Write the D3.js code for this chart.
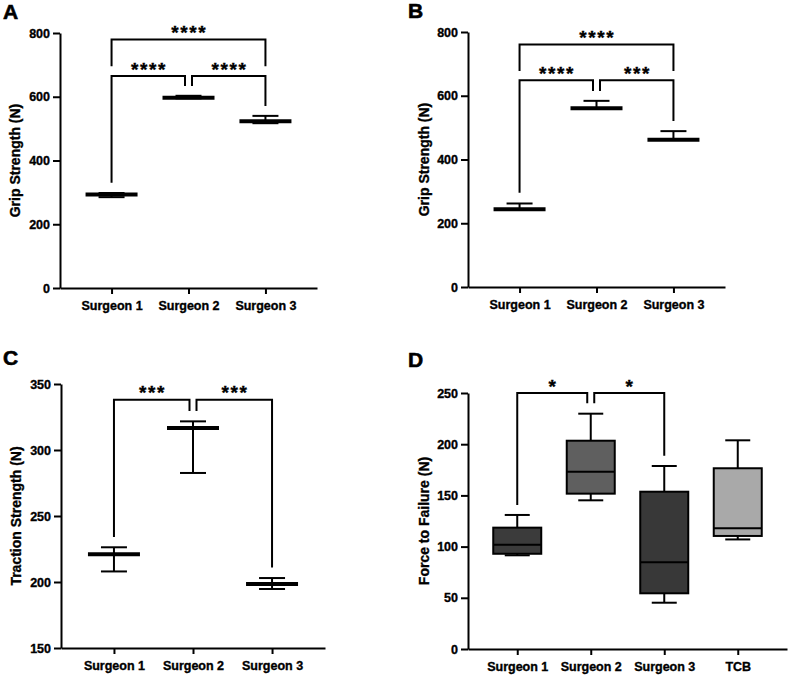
<!DOCTYPE html>
<html><head><meta charset="utf-8">
<script src="https://cdn.jsdelivr.net/npm/d3@7"></script>
<style>
body{margin:0;background:#fff}
svg text{font-family:"Liberation Sans",Arial,Helvetica,sans-serif;font-weight:bold;fill:#000;stroke:#000;stroke-width:0.35px}
</style>
</head><body><svg id="chart" width="789" height="675"></svg>
<script>
// ---------- data ----------
const categoriesABC = ["Surgeon 1", "Surgeon 2", "Surgeon 3"];
const categoriesD = ["Surgeon 1", "Surgeon 2", "Surgeon 3", "TCB"];

const gripA_mean = [293, 597, 523];
const gripA_low = [285, 595, 517];
const gripA_high = [298, 603, 540];

const gripB_mean = [244, 561, 462];
const gripB_low = [244, 561, 462];
const gripB_high = [262, 584, 489];

const tractionC_mean = [221, 316.7, 198.5];
const tractionC_low = [208, 282.6, 194.7];
const tractionC_high = [226.3, 321.7, 203];

const failureD_min = [91.5, 145.2, 45.2, 107];
const failureD_q1 = [93, 151.7, 54.4, 110.4];
const failureD_median = [101.9, 173.2, 84.7, 117.9];
const failureD_q3 = [118.5, 203.4, 153.6, 176.5];
const failureD_max = [130.9, 229.8, 178.7, 203.8];
const failureD_fill = ["#3b3b3b", "#5f5f5f", "#383838", "#a9a9a9"];

const ticksGrip = [0, 200, 400, 600, 800];
const ticksTraction = [150, 200, 250, 300, 350];
const ticksFailure = [0, 50, 100, 150, 200, 250];

// significance brackets: [from, to, bracket value, left leg end value, right leg end value, label]
const sigA = [[0, 2, 780, 696, 696, "****"], [0, 1, 665, 330, 634, "****"], [1, 2, 665, 634, 571, "****"]];
const sigB = [[0, 2, 761, 678, 678, "****"], [0, 1, 649, 296, 615, "****"], [1, 2, 649, 615, 521, "***"]];
const sigC = [[0, 1, 338, 234, 329.5, "***"], [1, 2, 338, 329.5, 211, "***"]];
const sigD = [[0, 1, 250, 140.6, 240, "*"], [1, 2, 250, 240, 188.8, "*"]];

// ---------- drawing ----------
const svg = d3.select("#chart");
svg.append("rect").attr("width", 789).attr("height", 675).attr("fill", "#fff");

function drawPanel(p) {
  const g = svg.append("g");
  const x = d3.scalePoint().domain(p.cats).range([p.left, p.right]).padding(0.67);
  const y = d3.scaleLinear().domain(p.yDomain).range([p.bottom, p.top]);

  g.append("text").attr("x", p.letterX).attr("y", p.letterY)
    .style("font-size", "21px").style("stroke-width", "0.6px").text(p.letter);

  const ya = g.append("g").attr("transform", `translate(${p.left},0)`)
    .call(d3.axisLeft(y).tickValues(p.ticks).tickSize(7).tickSizeOuter(0).tickPadding(3));
  const xa = g.append("g").attr("transform", `translate(0,${p.bottom})`)
    .call(d3.axisBottom(x).tickSize(6).tickSizeOuter(0).tickPadding(7));
  [ya, xa].forEach(a => {
    a.select(".domain").attr("stroke", "#000").attr("stroke-width", 2);
    a.selectAll(".tick line").attr("stroke", "#000").attr("stroke-width", 2);
    a.selectAll(".tick text").style("font-size", "12.5px").attr("fill", "#000");
  });

  g.append("text")
    .attr("transform", `translate(${p.titleX},${(p.top + p.bottom) / 2}) rotate(-90)`)
    .attr("text-anchor", "middle").style("font-size", "14px").text(p.yTitle);

  if (p.mean) {
    p.cats.forEach((c, i) => {
      const cx = x(c);
      g.append("line").attr("x1", cx).attr("x2", cx).attr("y1", y(p.low[i])).attr("y2", y(p.high[i]))
        .attr("stroke", "#000").attr("stroke-width", 2);
      [p.low[i], p.high[i]].forEach(v => {
        g.append("line").attr("x1", cx - 13).attr("x2", cx + 13).attr("y1", y(v)).attr("y2", y(v))
          .attr("stroke", "#000").attr("stroke-width", 2);
      });
      g.append("line").attr("x1", cx - 26).attr("x2", cx + 26).attr("y1", y(p.mean[i])).attr("y2", y(p.mean[i]))
        .attr("stroke", "#000").attr("stroke-width", 4);
    });
  }
  if (p.box) {
    const b = p.box;
    p.cats.forEach((c, i) => {
      const cx = x(c);
      g.append("line").attr("x1", cx).attr("x2", cx).attr("y1", y(b.max[i])).attr("y2", y(b.q3[i]))
        .attr("stroke", "#000").attr("stroke-width", 2);
      g.append("line").attr("x1", cx).attr("x2", cx).attr("y1", y(b.q1[i])).attr("y2", y(b.min[i]))
        .attr("stroke", "#000").attr("stroke-width", 2);
      [b.min[i], b.max[i]].forEach(v => {
        g.append("line").attr("x1", cx - 12.5).attr("x2", cx + 12.5).attr("y1", y(v)).attr("y2", y(v))
          .attr("stroke", "#000").attr("stroke-width", 2);
      });
      g.append("rect").attr("x", cx - 24).attr("width", 48)
        .attr("y", y(b.q3[i])).attr("height", y(b.q1[i]) - y(b.q3[i]))
        .attr("fill", b.fill[i]).attr("stroke", "#000").attr("stroke-width", 2);
      g.append("line").attr("x1", cx - 24).attr("x2", cx + 24).attr("y1", y(b.median[i])).attr("y2", y(b.median[i]))
        .attr("stroke", "#000").attr("stroke-width", 2);
    });
  }

  p.sig.forEach((s, k) => {
    const [a, bI, lvl, legL, legR, lab] = s;
    const shared = idx => p.sig.some((o, m) => m !== k && o[2] === lvl && (o[0] === idx || o[1] === idx));
    const xl = x(p.cats[a]) + (shared(a) ? 3.5 : 0);
    const xr = x(p.cats[bI]) - (shared(bI) ? 3.5 : 0);
    g.append("path")
      .attr("d", `M${xl},${y(legL)}V${y(lvl)}H${xr}V${y(legR)}`)
      .attr("fill", "none").attr("stroke", "#000").attr("stroke-width", 2);
    g.append("text").attr("x", (xl + xr) / 2 + 0.8).attr("y", y(lvl) - 0.5)
      .attr("text-anchor", "middle").style("font-size", "19px").style("letter-spacing", "1.6px")
      .text(lab);
  });
}

drawPanel({letter: "A", letterX: 3, letterY: 19, left: 60, right: 317, top: 33, bottom: 288,
  yDomain: [0, 800], ticks: ticksGrip, cats: categoriesABC, yTitle: "Grip Strength (N)", titleX: 20,
  mean: gripA_mean, low: gripA_low, high: gripA_high, sig: sigA});
drawPanel({letter: "B", letterX: 408, letterY: 18, left: 468, right: 725, top: 32, bottom: 287,
  yDomain: [0, 800], ticks: ticksGrip, cats: categoriesABC, yTitle: "Grip Strength (N)", titleX: 429,
  mean: gripB_mean, low: gripB_low, high: gripB_high, sig: sigB});
drawPanel({letter: "C", letterX: 3, letterY: 365, left: 61, right: 325, top: 384, bottom: 648,
  yDomain: [150, 350], ticks: ticksTraction, cats: categoriesABC, yTitle: "Traction Strength (N)", titleX: 21,
  mean: tractionC_mean, low: tractionC_low, high: tractionC_high, sig: sigC});
drawPanel({letter: "D", letterX: 408, letterY: 367, left: 468, right: 787, top: 393, bottom: 649,
  yDomain: [0, 250], ticks: ticksFailure, cats: categoriesD, yTitle: "Force to Failure (N)", titleX: 429,
  box: {min: failureD_min, q1: failureD_q1, median: failureD_median, q3: failureD_q3, max: failureD_max, fill: failureD_fill},
  sig: sigD});
</script>
</body></html>
